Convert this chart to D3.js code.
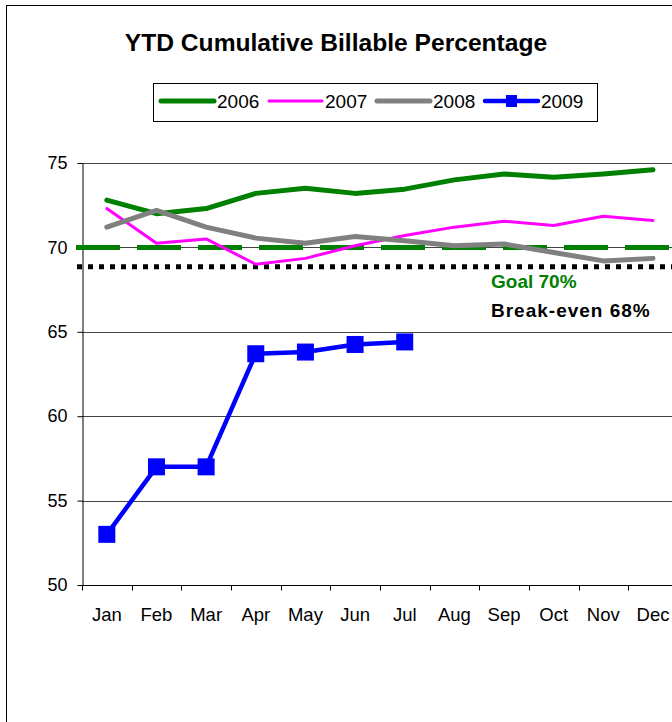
<!DOCTYPE html>
<html>
<head>
<meta charset="utf-8">
<script src="https://cdn.jsdelivr.net/npm/d3@7"></script>
<style>
  body { margin: 0; background: #fff; }
  svg { display: block; font-family: "Liberation Sans", Arial, sans-serif; }
</style>
</head>
<body>
<svg id="chart" width="672" height="722"></svg>
<script>
// data
const months = ["Jan", "Feb", "Mar", "Apr", "May", "Jun", "Jul", "Aug", "Sep", "Oct", "Nov", "Dec"];
const v2006 = [72.8, 72.0, 72.3, 73.2, 73.5, 73.2, 73.45, 74.0, 74.35, 74.15, 74.35, 74.6];
const v2007 = [72.3, 70.25, 70.5, 69.0, 69.35, 70.1, 70.7, 71.2, 71.55, 71.3, 71.85, 71.6];
const v2008 = [71.2, 72.2, 71.2, 70.55, 70.25, 70.65, 70.4, 70.1, 70.2, 69.7, 69.2, 69.35];
const v2009 = [53.0, 57.0, 57.0, 63.7, 63.8, 64.25, 64.4];
const yTicks = [50, 55, 60, 65, 70, 75];
const goal = 70;
const breakEven = 68.85;

const series = [
  { name: "2006", values: v2006, color: "#008000", width: 5 },
  { name: "2007", values: v2007, color: "#ff00ff", width: 3 },
  { name: "2008", values: v2008, color: "#808080", width: 5 },
  { name: "2009", values: v2009, color: "#0000ff", width: 4.5, marker: true }
];

const svg = d3.select("#chart");

// frame
svg.append("rect")
  .attr("x", 6.5).attr("y", 5.5)
  .attr("width", 720).attr("height", 760)
  .attr("fill", "#fff").attr("stroke", "#000").attr("stroke-width", 1);

// scales
const plot = { left: 82, top: 163, bottom: 585 };
const x = d3.scaleBand().domain(months).range([plot.left, plot.left + 12 * 49.65]);
const y = d3.scaleLinear().domain([50, 75]).range([plot.bottom, plot.top]);
const cx = m => x(m) + x.bandwidth() / 2;

// title
svg.append("text")
  .attr("x", 336).attr("y", 51)
  .attr("text-anchor", "middle")
  .attr("font-size", 24.6).attr("font-weight", "bold")
  .text("YTD Cumulative Billable Percentage");

// gridlines
svg.append("g")
  .selectAll("line")
  .data(yTicks.filter(t => t > 50))
  .join("line")
  .attr("x1", plot.left).attr("x2", 672)
  .attr("y1", d => Math.round(y(d)) + 0.5)
  .attr("y2", d => Math.round(y(d)) + 0.5)
  .attr("stroke", "#444").attr("stroke-width", 1);

// axes
const yAxis = svg.append("g")
  .attr("transform", `translate(${plot.left + 0.5},0)`)
  .call(d3.axisLeft(y).tickValues(yTicks).tickSize(5).tickSizeOuter(0).tickPadding(10));
yAxis.select(".domain").attr("stroke", "#000");
yAxis.selectAll("text").attr("font-size", 18).attr("fill", "#000").attr("font-family", "Liberation Sans, Arial, sans-serif");

const xAxis = svg.append("g")
  .attr("transform", `translate(0,${plot.bottom + 0.5})`);
xAxis.append("line")
  .attr("x1", plot.left).attr("x2", 672)
  .attr("stroke", "#000");
xAxis.selectAll(".tick")
  .data(months)
  .join("line")
  .attr("class", "tick")
  .attr("x1", d => Math.round(x(d)) + 0.5).attr("x2", d => Math.round(x(d)) + 0.5)
  .attr("y1", 0).attr("y2", 5)
  .attr("stroke", "#000");
xAxis.selectAll(".lbl")
  .data(months)
  .join("text")
  .attr("class", "lbl")
  .attr("x", d => cx(d))
  .attr("y", 35)
  .attr("text-anchor", "middle")
  .attr("font-size", 18.5)
  .text(d => d);

// goal + break-even reference lines
svg.append("line")
  .attr("x1", 76).attr("x2", 672)
  .attr("y1", y(goal)).attr("y2", y(goal))
  .attr("stroke", "#008000").attr("stroke-width", 5)
  .attr("stroke-dasharray", "44,17");

svg.append("line")
  .attr("x1", 77).attr("x2", 672)
  .attr("y1", y(breakEven)).attr("y2", y(breakEven))
  .attr("stroke", "#000").attr("stroke-width", 5)
  .attr("stroke-dasharray", "5,6");

svg.append("text")
  .attr("x", 491).attr("y", 288)
  .attr("font-size", 19).attr("font-weight", "bold")
  .attr("fill", "#008000")
  .text("Goal 70%");

svg.append("text")
  .attr("x", 491).attr("y", 317)
  .attr("font-size", 19).attr("font-weight", "bold")
  .attr("letter-spacing", 1)
  .attr("fill", "#000")
  .text("Break-even 68%");

// series lines
const line = d3.line()
  .x((d, i) => cx(months[i]))
  .y(d => y(d));

series.forEach(s => {
  svg.append("path")
    .attr("d", line(s.values))
    .attr("fill", "none")
    .attr("stroke", s.color)
    .attr("stroke-width", s.width)
    .attr("stroke-linejoin", "round")
    .attr("stroke-linecap", "round");
  if (s.marker) {
    const ms = 17;
    svg.append("g")
      .selectAll("rect")
      .data(s.values)
      .join("rect")
      .attr("x", (d, i) => cx(months[i]) - ms / 2)
      .attr("y", d => y(d) - ms / 2)
      .attr("width", ms).attr("height", ms)
      .attr("fill", s.color);
  }
});

// legend
const lg = svg.append("g");
lg.append("rect")
  .attr("x", 153.5).attr("y", 83.5)
  .attr("width", 444).attr("height", 38)
  .attr("fill", "#fff").attr("stroke", "#000");

series.forEach((s, i) => {
  const x0 = 161 + i * 108;
  const ly = 101;
  lg.append("line")
    .attr("x1", x0).attr("x2", x0 + 53)
    .attr("y1", ly).attr("y2", ly)
    .attr("stroke", s.color)
    .attr("stroke-width", s.width)
    .attr("stroke-linecap", "round");
  if (s.marker) {
    lg.append("rect")
      .attr("x", x0 + 26.5 - 5.5).attr("y", ly - 6)
      .attr("width", 11).attr("height", 12)
      .attr("fill", s.color);
  }
  lg.append("text")
    .attr("x", x0 + 56).attr("y", ly + 7)
    .attr("font-size", 19)
    .text(s.name);
});
</script>
</body>
</html>
